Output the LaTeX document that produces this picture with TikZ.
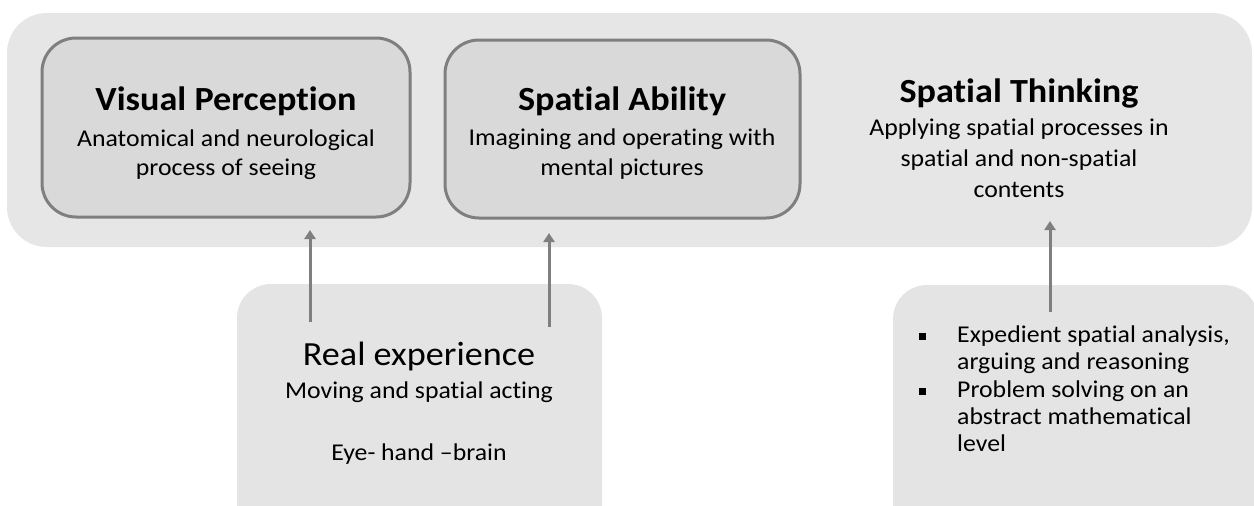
\documentclass[tikz,border=0pt]{standalone}
\usepackage{fontspec}
\setmainfont{Carlito}[FakeStretch=1.07,Ligatures={NoCommon}]
\usetikzlibrary{arrows.meta}
\definecolor{outerfill}{HTML}{E6E6E6}
\definecolor{innerfill}{HTML}{D9D9D9}
\definecolor{lowfill}{HTML}{E4E4E4}
\definecolor{edgegrey}{HTML}{7F7F7F}
\begin{document}
\begin{tikzpicture}[x=1pt,y=-1pt,
  outerbox/.style={fill=outerfill, draw=none, rounded corners=40pt},
  innerbox/.style={fill=innerfill, draw=edgegrey, line width=3pt, rounded corners=34pt},
  lowbox/.style={fill=lowfill, draw=none, rounded corners=34pt},
  titletxt/.style={anchor=base, inner sep=0pt, font=\fontsize{33.8}{33}\selectfont\bfseries},
  bigtxt/.style={anchor=base, inner sep=0pt, font=\fontsize{33.8}{33}\selectfont},
  subtxt/.style={anchor=base, inner sep=0pt, font=\fontsize{24.1}{27}\selectfont},
  bultxt/.style={anchor=base west, inner sep=0pt, font=\fontsize{24.1}{27}\selectfont},
  bulletsq/.style={fill=black, inner sep=0pt, minimum size=7pt},
  arr/.style={draw=edgegrey, line width=3pt, -{Triangle[width=11pt,length=9pt]}}
]
\useasboundingbox (0,0) rectangle (1254,506);
\clip (0,0) rectangle (1254,506);
\fill[white] (0,0) rectangle (1254,506);

% outer band
\path[outerbox] (7,13) rectangle (1252,247);
\coordinate (tipA) at (310,230);
\coordinate (tipB) at (549,233);
\coordinate (tipC) at (1050,221);

% inner boxes
\node[innerbox, minimum width=368pt, minimum height=179pt] (vp) at (226,127.5) {};
\node[innerbox, minimum width=355pt, minimum height=178pt] (sa) at (622.5,129) {};

% lower boxes
\node[lowbox, minimum width=365pt, minimum height=260pt] (re) at (419.5,414) {};
\node[lowbox, minimum width=365pt, minimum height=260pt] (pt) at (1075.5,415) {};

% texts
\node[titletxt] (vpt) at (226,110) {Visual Perception};
\node[subtxt] (vps1) at (226,146) {Anatomical and neurological};
\node[subtxt] (vps2) at (226,175) {process of seeing};

\node[titletxt] (sat) at (622,110) {Spatial Ability};
\node[subtxt] (sas1) at (622,145) {Imagining and operating with};
\node[subtxt] (sas2) at (622,175) {mental pictures};

\node[titletxt] (stt) at (1019,102) {Spatial Thinking};
\node[subtxt] (sts1) at (1019,135) {Applying spatial processes in};
\node[subtxt] (sts2) at (1019,166) {spatial and non-spatial};
\node[subtxt] (sts3) at (1019,197) {contents};

\node[bigtxt] (ret) at (419,365) {Real experience};
\node[subtxt] (res1) at (419,398) {Moving and spatial acting};
\node[subtxt] (res2) at (419,460) {Eye- hand --brain};

\node[bulletsq] (bu1) at (922,336) {};
\node[bultxt] (pt1) at (957,342) {Expedient spatial analysis,};
\node[bultxt] (pt2) at (957,369) {arguing and reasoning};
\node[bulletsq] (bu2) at (922,391) {};
\node[bultxt] (pt3) at (957,397) {Problem solving on an};
\node[bultxt] (pt4) at (957,424) {abstract mathematical};
\node[bultxt] (pt5) at (957,451) {level};

% arrows
\coordinate (srcA) at (310,322);
\coordinate (srcB) at (549,327);
\coordinate (srcC) at (1050,312);
\draw[arr] (srcA) -- (tipA);
\draw[arr] (srcB) -- (tipB);
\draw[arr] (srcC) -- (tipC);
\end{tikzpicture}
\end{document}
